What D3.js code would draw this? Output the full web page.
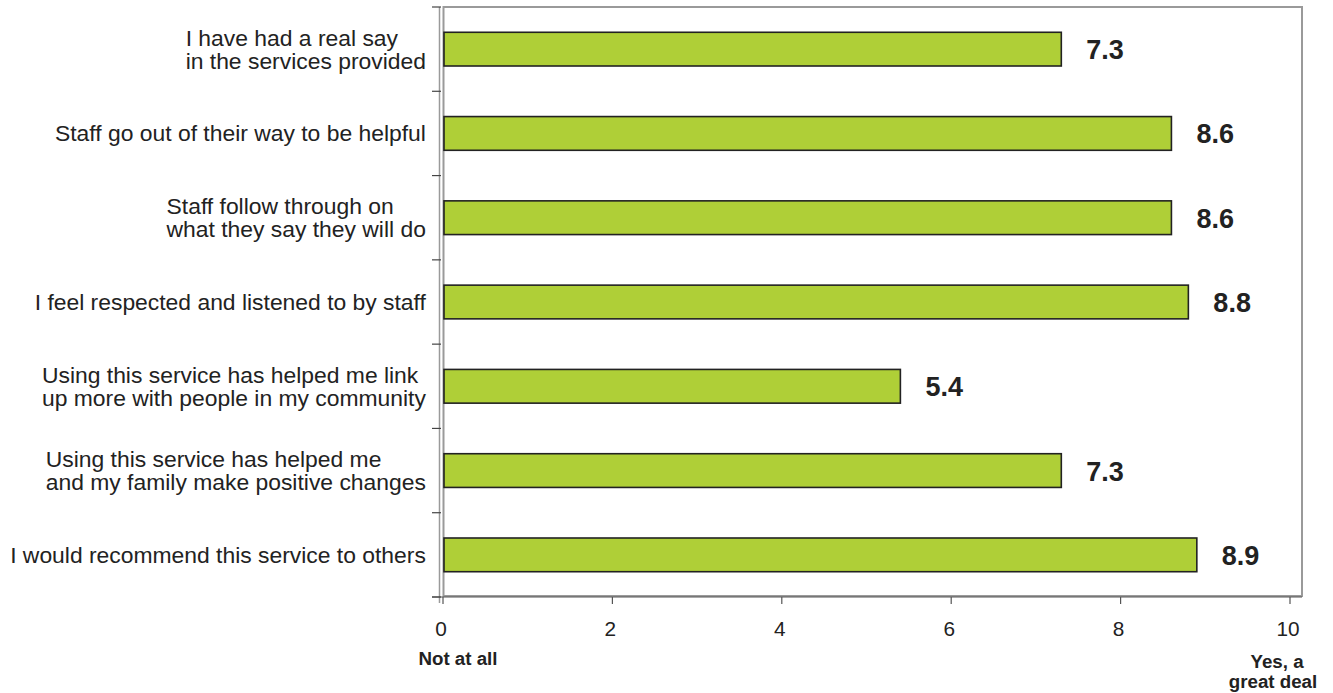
<!DOCTYPE html>
<html>
<head>
<meta charset="utf-8">
<script src="https://cdn.jsdelivr.net/npm/d3@7"></script>
<style>
  body { margin: 0; background: #fff; }
  svg { font-family: "Liberation Sans", Arial, sans-serif; }
</style>
</head>
<body>
<svg id="chart" width="1333" height="693"></svg>
<script>
// categories, one line per array entry
var categories = [
  ["I have had a real say", "in the services provided"],
  ["Staff go out of their way to be helpful"],
  ["Staff follow through on", "what they say they will do"],
  ["I feel respected and listened to by staff"],
  ["Using this service has helped me link", "up more with people in my community"],
  ["Using this service has helped me", "and my family make positive changes"],
  ["I would recommend this service to others"]
];
var scores = [7.3, 8.6, 8.6, 8.8, 5.4, 7.3, 8.9];
var xTicks = [0, 2, 4, 6, 8, 10];

var svg = d3.select("#chart");

let plotLeft = 443, plotRight = 1290, frameRight = 1302, plotTop = 7, plotBottom = 597;
let stretch = 1.04; // the source text is a little wider than the font

let x = d3.scaleLinear().domain([0, 10]).range([plotLeft, plotRight]);

let y = d3.scaleBand()
  .domain(d3.range(categories.length))
  .range([plotTop, plotBottom])
  .paddingInner(0.6)
  .paddingOuter(0.3);

let step = y.step();

// frame
svg.append("rect")
  .attr("x", plotLeft + 0.5)
  .attr("y", plotTop)
  .attr("width", frameRight - plotLeft - 0.5)
  .attr("height", plotBottom - plotTop - 1)
  .attr("fill", "none")
  .attr("stroke", "#9a9a9a")
  .attr("stroke-width", 2);

// outer y axis line
svg.append("line")
  .attr("x1", 439.5).attr("x2", 439.5)
  .attr("y1", plotTop).attr("y2", plotBottom + 6)
  .attr("stroke", "#9a9a9a")
  .attr("stroke-width", 1.5);

// bottom axis line
svg.append("line")
  .attr("x1", 432).attr("x2", frameRight)
  .attr("y1", plotBottom).attr("y2", plotBottom)
  .attr("stroke", "#555")
  .attr("stroke-width", 1.2);

// y ticks at category boundaries
svg.selectAll(".ytick")
  .data(d3.range(categories.length + 1))
  .enter()
  .append("line")
  .attr("class", "ytick")
  .attr("x1", 432).attr("x2", 441)
  .attr("y1", d => plotTop + d * step)
  .attr("y2", d => plotTop + d * step)
  .attr("stroke", "#444")
  .attr("stroke-width", 1.2);

// x ticks
svg.selectAll(".xtick")
  .data(xTicks)
  .enter()
  .append("line")
  .attr("class", "xtick")
  .attr("x1", d => x(d)).attr("x2", d => x(d))
  .attr("y1", plotBottom).attr("y2", plotBottom + 7)
  .attr("stroke", "#555")
  .attr("stroke-width", 1.2);

svg.selectAll(".xlabel")
  .data(xTicks)
  .enter()
  .append("text")
  .attr("class", "xlabel")
  .attr("transform", d => `translate(${x(d) - 2},636) scale(${stretch},1)`)
  .attr("text-anchor", "middle")
  .attr("font-size", 20)
  .attr("fill", "#222")
  .text(d => d);

// bars
svg.selectAll(".bar")
  .data(scores)
  .enter()
  .append("rect")
  .attr("class", "bar")
  .attr("x", x(0) + 1)
  .attr("y", (d, i) => y(i))
  .attr("width", d => x(d) - x(0) - 1)
  .attr("height", y.bandwidth())
  .attr("fill", "#afcf37")
  .attr("stroke", "#222")
  .attr("stroke-width", 1.6);

// value labels
svg.selectAll(".val")
  .data(scores)
  .enter()
  .append("text")
  .attr("class", "val")
  .attr("x", d => x(d) + 25)
  .attr("y", (d, i) => y(i) + y.bandwidth() / 2 + 10)
  .attr("font-size", 27)
  .attr("font-weight", "bold")
  .attr("fill", "#222")
  .text(d => d.toFixed(1));

// category labels: block right aligned, lines left aligned within the block
let labelRight = 426;
categories.forEach((lines, i) => {
  let cy = y(i) + y.bandwidth() / 2;
  let g = svg.append("g");
  let texts = lines.map((t, j) => g.append("text")
    .attr("font-size", 22)
    .attr("fill", "#222")
    .text(t));
  let w = d3.max(texts, t => t.node().getComputedTextLength()) * stretch;
  texts.forEach((t, j) => {
    let ty = cy + 8 + (j - (lines.length - 1) / 2) * 23;
    t.attr("transform", `translate(${labelRight - w},${ty}) scale(${stretch},1)`);
  });
});

// axis end captions
function caption(txt, cx, cy) {
  svg.append("text")
    .attr("transform", `translate(${cx},${cy}) scale(${stretch},1)`)
    .attr("text-anchor", "middle")
    .attr("font-size", 18)
    .attr("font-weight", "bold")
    .attr("fill", "#222")
    .text(txt);
}
caption("Not at all", 458, 665);
caption("Yes, a", 1277, 668);
caption("great deal", 1273, 688);
</script>
</body>
</html>
